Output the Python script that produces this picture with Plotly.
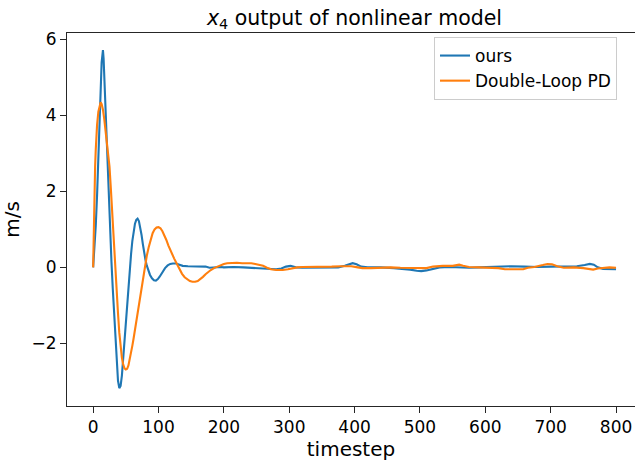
import plotly.graph_objects as go

# ---- data ----
ours_t = [0, 2, 4, 6, 8, 10, 12, 13, 14, 15, 16, 17, 18, 20, 22, 24, 26, 28, 30, 32, 34, 36, 38, 40,
          42, 44, 46, 48, 50, 52, 54, 56, 58, 60, 62, 64, 66, 68, 70, 72, 74, 76, 78, 80, 82, 84, 87,
          90, 93, 96, 99, 102, 106, 110, 114, 118, 122, 127, 132, 137, 145, 155, 165, 172, 178, 185,
          195, 200, 215, 230, 245, 255, 270, 280, 288, 295, 302, 310, 320, 340, 360, 375, 385, 392,
          397, 403, 410, 420, 440, 460, 475, 485, 495, 502, 510, 518, 530, 545, 560, 575, 590, 605,
          620, 640, 660, 680, 700, 720, 740, 752, 760, 766, 772, 780, 790, 800]
ours_v = [0.0, 0.45, 1.1, 1.9, 2.75, 3.8, 4.9, 5.4, 5.68, 5.72, 5.5, 5.05, 4.5, 3.3, 2.4, 1.6, 0.85,
          0.15, -0.55, -1.25, -1.95, -2.55, -2.98, -3.18, -3.12, -2.85, -2.4, -1.85, -1.3, -0.8,
          -0.35, 0.0, 0.35, 0.7, 0.97, 1.15, 1.25, 1.28, 1.22, 1.07, 0.86, 0.62, 0.38, 0.2, 0.05,
          -0.07, -0.2, -0.29, -0.34, -0.35, -0.31, -0.24, -0.12, -0.02, 0.05, 0.09, 0.1, 0.1, 0.07,
          0.04, 0.03, 0.03, 0.03, 0.02, -0.01, 0.0, 0.01, 0.0, 0.01, 0.0, -0.01, -0.03, -0.04, -0.05,
          -0.03, 0.02, 0.04, 0.0, -0.01, 0.0, 0.01, 0.0, 0.04, 0.09, 0.11, 0.08, 0.02, 0.0, 0.0,
          -0.02, -0.04, -0.06, -0.09, -0.1, -0.08, -0.04, 0.0, 0.01, 0.0, -0.01, 0.0, 0.01, 0.02,
          0.03, 0.02, 0.01, 0.02, 0.03, 0.03, 0.06, 0.09, 0.07, 0.0, -0.04, -0.05, -0.05]

pd_t = [0, 1, 2, 3, 4, 5, 6, 8, 10, 11.5, 13, 15, 17, 19, 21, 23, 25, 27, 29, 31, 34, 36, 38, 40,
        42, 44, 46, 48, 50, 52, 54, 56, 58, 60, 62, 64, 66, 68, 70, 72, 74, 76, 78, 80, 82, 85, 88,
        91, 94, 97, 100, 103, 106, 109, 112, 115, 118, 121, 124, 127, 130, 133, 136, 140, 144, 148,
        152, 156, 160, 164, 168, 172, 176, 180, 185, 190, 195, 200, 205, 212, 220, 228, 236, 242,
        248, 254, 260, 266, 272, 280, 290, 298, 305, 312, 320, 335, 350, 365, 380, 395, 405, 412,
        425, 440, 455, 470, 485, 500, 510, 520, 535, 550, 560, 566, 575, 590, 605, 620, 630, 645,
        658, 665, 675, 688, 695, 702, 710, 720, 735, 750, 758, 765, 772, 780, 790, 800]
pd_v = [0.0, 1.1, 2.0, 2.65, 3.1, 3.45, 3.75, 4.1, 4.3, 4.35, 4.3, 4.15, 3.9, 3.6, 3.3, 3.0, 2.65,
        2.1, 1.45, 0.85, 0.0, -0.6, -1.2, -1.72, -2.1, -2.38, -2.56, -2.66, -2.69, -2.67, -2.58,
        -2.43, -2.25, -2.06, -1.86, -1.65, -1.44, -1.2, -0.96, -0.73, -0.5, -0.28, -0.07, 0.12,
        0.3, 0.53, 0.74, 0.9, 1.0, 1.05, 1.06, 1.03, 0.95, 0.85, 0.72, 0.58, 0.45, 0.33, 0.23,
        0.13, 0.02, -0.08, -0.17, -0.26, -0.32, -0.36, -0.38, -0.38, -0.36, -0.31, -0.25, -0.18,
        -0.12, -0.07, -0.02, 0.02, 0.06, 0.09, 0.11, 0.12, 0.12, 0.11, 0.12, 0.11, 0.09, 0.07,
        0.04, -0.01, -0.05, -0.07, -0.07, -0.05, -0.02, 0.0, 0.01, 0.01, 0.02, 0.02, 0.03, 0.03,
        0.0, -0.02, -0.02, -0.01, 0.0, -0.01, -0.02, -0.03, -0.02, 0.02, 0.04, 0.04, 0.07, 0.04,
        0.01, 0.0, -0.01, -0.02, -0.05, -0.06, -0.05, -0.01, 0.01, 0.06, 0.09, 0.08, 0.03, -0.01,
        0.0, -0.02, -0.05, -0.06, -0.03, -0.01, 0.0, -0.01]

x_ticks = [0, 100, 200, 300, 400, 500, 600, 700, 800]
y_ticks = [-2, 0, 2, 4, 6]
y_tick_text = ["\u22122", "0", "2", "4", "6"]

FONT = "DejaVu Sans"
INK = "#262626"

fig = go.Figure()
fig.add_trace(go.Scatter(x=ours_t, y=ours_v, mode="lines", name="ours",
                         line=dict(color="#1f77b4", width=2.1)))
fig.add_trace(go.Scatter(x=pd_t, y=pd_v, mode="lines", name="Double-Loop PD",
                         line=dict(color="#ff7f0e", width=2.1)))

fig.update_layout(
    width=635, height=463,
    margin=dict(l=67, r=0, t=33, b=57, autoexpand=False),
    paper_bgcolor="white", plot_bgcolor="white",
    font=dict(family=FONT, size=17, color="black"),
    title=dict(text="<i>x</i><sub>4</sub> output of nonlinear model",
               x=354.5 / 635, xref="container", xanchor="center",
               y=1 - 18 / 463, yref="container", yanchor="middle",
               font=dict(family=FONT, size=20.5, color="black")),
    showlegend=True,
    legend=dict(x=(434 - 67) / 568, xanchor="left", y=1 - 4 / 373, yanchor="top",
                bgcolor="rgba(255,255,255,0.8)", bordercolor="#cccccc", borderwidth=1,
                font=dict(family=FONT, size=17, color="black"),
                tracegroupgap=0),
)
fig.update_xaxes(range=[-40, 829], tickvals=x_ticks, ticks="outside", ticklen=6,
                 tickwidth=1.1, tickcolor=INK, showline=True, linecolor=INK, linewidth=1.1,
                 mirror=True, showgrid=False, zeroline=False, automargin=False,
                 title=dict(text="timestep", standoff=2))
fig.update_yaxes(range=[-3.65, 6.17], tickvals=y_ticks, ticktext=y_tick_text, ticks="outside",
                 ticklen=6, tickwidth=1.1, tickcolor=INK, showline=True, linecolor=INK,
                 linewidth=1.1, showgrid=False, zeroline=False, automargin=False,
                 title=dict(text="m/s", standoff=8))

fig.write_html("out.html", config={"displayModeBar": False},
               post_script="document.body.style.margin='0';document.body.style.overflow='hidden';")
